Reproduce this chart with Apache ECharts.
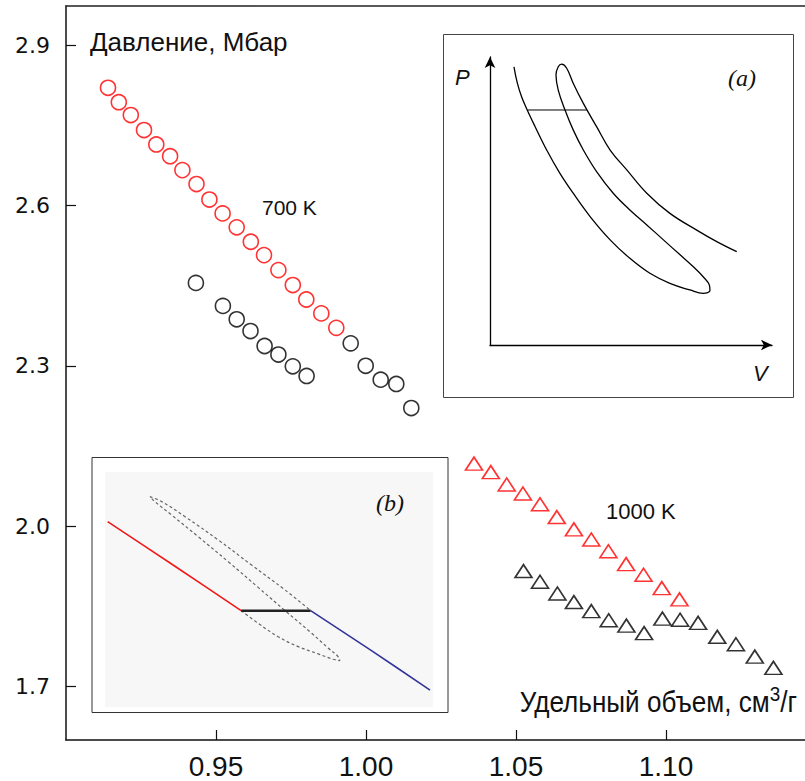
<!DOCTYPE html>
<html><head><meta charset="utf-8">
<script src="https://cdn.jsdelivr.net/npm/echarts@6/dist/echarts.min.js"></script>
<style>html,body{margin:0;padding:0;background:#fff}#c{width:805px;height:781px}</style>
</head><body><div id="c"></div>
<script>
// ---- main chart data ----
const xTicks = [0.95, 1.00, 1.05, 1.10];
const yTicks = [1.7, 2.0, 2.3, 2.6, 2.9];

const red700V = [0.914,0.9176,0.9216,0.926,0.9301,0.9347,0.9388,0.9435,0.9478,0.9522,0.9569,0.9616,0.966,0.9708,0.9756,0.9801,0.9851,0.9901];
const red700P = [2.820,2.793,2.769,2.741,2.714,2.692,2.666,2.640,2.611,2.585,2.559,2.532,2.507,2.479,2.451,2.424,2.398,2.371];
const blk700aV = [0.9949,0.9999,1.0049,1.0101,1.0151];
const blk700aP = [2.342,2.300,2.274,2.266,2.221];
const blk700bV = [0.9433,0.9523,0.9569,0.9615,0.9662,0.9708,0.9756,0.9802];
const blk700bP = [2.455,2.412,2.387,2.365,2.337,2.321,2.299,2.281];

const red1000V = [1.036,1.0416,1.0469,1.0523,1.058,1.0636,1.0693,1.0751,1.0808,1.0867,1.0925,1.0986,1.1045];
const red1000P = [2.117,2.101,2.078,2.061,2.041,2.017,1.994,1.975,1.953,1.929,1.909,1.884,1.863];
const blk1000V = [1.0525,1.058,1.0638,1.0693,1.0751,1.0809,1.0868,1.0927,1.0988,1.1047,1.1107,1.1171,1.1233,1.1296,1.1358];
const blk1000P = [1.916,1.896,1.874,1.858,1.841,1.824,1.814,1.800,1.827,1.825,1.819,1.793,1.779,1.756,1.735];

// ---- inset (a): schematic P-V isotherm (relative units 0..100) ----
const insetAU = [8.5,9.7,11.2,13.2,16.0,20.1,24.8,29.5,35.5,42.6,49.6,56.7,63.8,70.9,75.6,78.0,77.8,75.6,72.1,67.4,61.5,55.6,49.6,43.7,37.8,33.1,29.5,26.6,24.2,23.4,24.2,25.4,27.2,29.5,33.1,37.8,42.6,48.5,55.6,63.8,73.3,80.4,87.5];
const insetAW = [96.6,90.9,86.2,81.6,75.8,67.7,59.6,52.7,44.6,36.5,30.1,24.9,21.4,19.1,17.9,18.9,20.8,23.7,27.2,31.3,36.5,41.7,46.9,52.7,60.2,67.7,74.7,81.6,88.5,93.8,96.6,97.5,96.1,90.9,83.9,75.8,67.7,60.8,52.7,45.7,39.9,35.9,32.4];
const insetATieU = [13.2, 34.3];
const insetATieW = [81.6, 81.6];

// ---- inset (b) ----
const insetBRedU = [0.8, 21.1, 41.5];
const insetBRedW = [78.9, 60.1, 41.0];
const insetBTieU = [41.5, 62.7];
const insetBTieW = [41.0, 41.0];
const insetBBlueU = [62.7, 80.9, 99.1];
const insetBBlueW = [41.0, 24.3, 7.2];
const insetBLoopU = [41.5,46.7,52.8,58.9,65.0,69.6,71.6,70.9,68.1,63.0,54.9,46.7,37.6,28.4,20.3,15.2,13.7,17.3,24.4,34.5,44.7,54.9,62.7];
const insetBLoopW = [41.0,35.6,29.9,25.7,22.6,20.3,19.7,21.7,25.0,31.4,41.0,50.9,61.8,72.5,81.7,87.4,89.5,87.4,81.0,71.1,60.4,49.8,41.0];

const zip = (a, b) => a.map((v, i) => [v, b[i]]);

const RED = '#ff0000';
const BLK = '#000000';
const SANS = '"Liberation Sans", Arial, sans-serif';

const chart = echarts.init(document.getElementById('c'), null, {renderer: 'svg'});

const hiddenAxis = (gi, extra) => Object.assign({
  gridIndex: gi, type: 'value', min: 0, max: 100,
  axisLine: {show: false}, axisTick: {show: false}, axisLabel: {show: false}, splitLine: {show: false}
}, extra || {});

const circ = (v, p, color) => ({
  type: 'scatter', xAxisIndex: 0, yAxisIndex: 0, data: zip(v, p), symbol: 'circle', symbolSize: 15,
  itemStyle: {color: 'rgba(0,0,0,0)', borderColor: color, borderWidth: 1.6}, z: 5, silent: true
});
const tri = (v, p, color) => ({
  type: 'scatter', xAxisIndex: 0, yAxisIndex: 0, data: zip(v, p), symbol: 'triangle', symbolSize: [17, 13],
  itemStyle: {color: 'rgba(0,0,0,0)', borderColor: color, borderWidth: 1.6}, z: 5, silent: true
});
const ln = (gi, u, w, color, width, type, smooth) => ({
  type: 'line', xAxisIndex: gi, yAxisIndex: gi, data: zip(u, w), showSymbol: false, smooth: smooth || false,
  lineStyle: {color: color, width: width, type: type || 'solid'}, z: 4, silent: true, animation: false
});

chart.setOption({
  animation: false,
  backgroundColor: '#ffffff',
  grid: [
    {left: 66, top: 6, width: 739, height: 734},
    {left: 490, top: 57, width: 282, height: 288},
    {left: 105, top: 472, width: 328, height: 235}
  ],
  xAxis: [
    {gridIndex: 0, type: 'value', min: 0.9, max: 1.14633, position: 'bottom',
     axisLine: {show: true, onZero: false, lineStyle: {color: '#111', width: 1.5}},
     axisTick: {show: true, inside: true, length: 10, customValues: xTicks, lineStyle: {color: '#111', width: 1.2}},
     axisLabel: {show: true, customValues: xTicks, margin: 12, color: '#111', fontSize: 28, fontFamily: SANS,
                 formatter: v => v.toFixed(2)},
     splitLine: {show: false}},
    hiddenAxis(1, {axisLine: {show: true, onZero: false, symbol: ['none', 'arrow'], symbolSize: [8, 11], lineStyle: {color: '#000', width: 1.3}}}),
    hiddenAxis(2),
    {gridIndex: 0, type: 'value', min: 0.9, max: 1.14633, position: 'top',
     axisLine: {show: true, onZero: false, lineStyle: {color: '#222', width: 1.5}},
     axisTick: {show: false}, axisLabel: {show: false}, splitLine: {show: false}}
  ],
  yAxis: [
    {gridIndex: 0, type: 'value', min: 1.6, max: 2.973,
     axisLine: {show: true, onZero: false, lineStyle: {color: '#111', width: 1.5}},
     axisTick: {show: true, inside: true, length: 10, customValues: yTicks, lineStyle: {color: '#111', width: 1.2}},
     axisLabel: {show: true, customValues: yTicks, margin: 16, color: '#111', fontSize: 22, fontFamily: 'DejaVu Sans, sans-serif',
                 formatter: v => v.toFixed(1)},
     splitLine: {show: false}},
    hiddenAxis(1, {axisLine: {show: true, onZero: false, symbol: ['none', 'arrow'], symbolSize: [8, 11], lineStyle: {color: '#000', width: 1.3}}}),
    hiddenAxis(2)
  ],
  graphic: [
    {type: 'rect', shape: {x: 443.5, y: 34.5, width: 350, height: 363}, style: {fill: '#fff', stroke: '#444', lineWidth: 1}, z: 0},
    {type: 'rect', shape: {x: 92, y: 457.5, width: 356, height: 255}, style: {fill: '#fff', stroke: '#333', lineWidth: 1}, z: 0},
    {type: 'rect', shape: {x: 105, y: 472, width: 328, height: 235}, style: {fill: '#f7f7f7'}, z: 0},
    {type: 'text', x: 90, y: 42, style: {text: 'Давление, Мбар', font: '26px ' + SANS, fill: '#111', textVerticalAlign: 'middle'}, z: 10},
    {type: 'text', x: 797, y: 722, scaleX: 0.9, style: {text: 'Удельный объем, см{s|3}/г', font: '29px ' + SANS, fill: '#111', textAlign: 'right', textVerticalAlign: 'bottom',
       rich: {s: {fontSize: 21, fontFamily: SANS, verticalAlign: 'top', padding: [0, 0, 18, 0]}}}, z: 10},
    {type: 'text', x: 262, y: 207, style: {text: '700 K', font: '21px ' + SANS, fill: '#111', textVerticalAlign: 'middle'}, z: 10},
    {type: 'text', x: 606, y: 511, style: {text: '1000 K', font: '22px ' + SANS, fill: '#111', textVerticalAlign: 'middle'}, z: 10},
    {type: 'text', x: 455, y: 77, style: {text: 'P', font: 'italic 22px ' + SANS, fill: '#111', textVerticalAlign: 'middle'}, z: 10},
    {type: 'text', x: 753, y: 373, style: {text: 'V', font: 'italic 22px ' + SANS, fill: '#111', textVerticalAlign: 'middle'}, z: 10},
    {type: 'text', x: 728, y: 78, style: {text: '(a)', font: 'italic 24px "Liberation Serif", serif', fill: '#111', textVerticalAlign: 'middle'}, z: 10},
    {type: 'text', x: 376, y: 503, style: {text: '(b)', font: 'italic 24px "Liberation Serif", serif', fill: '#111', textVerticalAlign: 'middle'}, z: 10}
  ],
  series: [
    circ(red700V, red700P, RED),
    circ(blk700aV, blk700aP, BLK),
    circ(blk700bV, blk700bP, BLK),
    tri(red1000V, red1000P, RED),
    tri(blk1000V, blk1000P, BLK),
    ln(1, insetAU, insetAW, '#000', 1.3, 'solid', 0.4),
    ln(1, insetATieU, insetATieW, '#000', 1, 'solid'),
    ln(2, insetBLoopU, insetBLoopW, '#666', 1.2, [3, 2.5], 0.4),
    ln(2, insetBRedU, insetBRedW, '#f01818', 1.6, 'solid', 0.3),
    ln(2, insetBTieU, insetBTieW, '#222', 2.5, 'solid'),
    ln(2, insetBBlueU, insetBBlueW, '#33359a', 1.6, 'solid', 0.3)
  ]
});
</script></body></html>
